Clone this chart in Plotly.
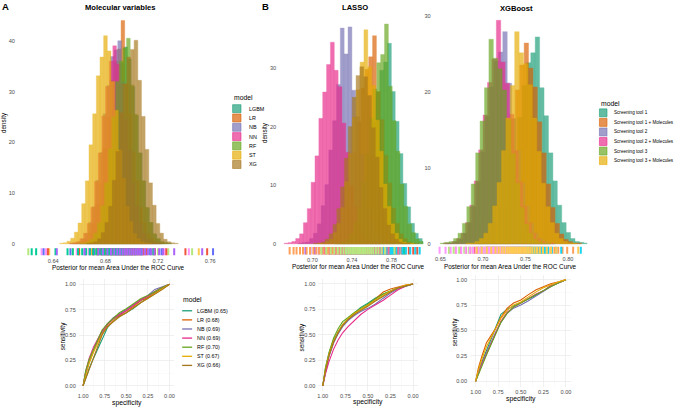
import plotly.graph_objects as go

W, H = 676, 409
DARK2 = ["#1B9E77", "#D95F02", "#7570B3", "#E7298A", "#66A61E", "#E6AB02", "#A6761D"]

# ---------------- data ----------------
MODELS = ["LGBM", "LR", "NB", "NN", "RF", "ST", "XG"]
ROC_AUC_A = [0.65, 0.68, 0.69, 0.69, 0.70, 0.67, 0.66]
TOOLS = ["Screening tool 1", "Screening tool 1 + Molecules", "Screening tool 2",
         "Screening tool 2 + Molecules", "Screening tool 3", "Screening tool 3 + Molecules"]

# Panel A (Molecular variables) histogram: bin width, first bin edge, densities
A_BIN = 0.0028
A_START = [0.6605, 0.6555, 0.6530, 0.6520, 0.6597, 0.6450, 0.6655]
A_LGBM = [0.1,0.2,0.4,1.0,2.1,3.9,7.6,11.9,18.6,24.6,31.6,35.6,38.8,36.4,31.0,25.3,17.9,12.4,7.1,4.2,1.9,1.0,0.4,0.2,0.1]
A_LR   = [0.1,0.2,0.4,0.9,2.2,3.9,7.7,11.9,18.8,24.9,32.2,36.0,38.4,44.0,31.5,25.6,18.1,12.5,7.2,4.2,2.0,1.0,0.4,0.2,0.1]
A_NB   = [0.1,0.2,0.4,1.0,2.0,4.2,7.3,12.5,18.0,25.6,31.2,36.9,38.2,40.0,32.0,24.9,18.6,12.0,7.5,3.9,2.1,0.9,0.4,0.2,0.1]
A_NN   = [0.1,0.2,0.4,1.0,2.1,4.0,7.2,12.3,17.9,25.2,31.0,36.0,39.0,35.4,31.5,24.5,18.4,11.9,7.4,4.1,2.0,0.9,0.4,0.2,0.1]
A_RF   = [0.1,0.2,0.4,0.9,2.1,4.1,7.5,12.0,18.7,25.0,32.0,36.0,38.6,40.5,31.3,25.5,17.9,12.4,7.2,4.2,2.0,1.0,0.4,0.2,0.1]
A_ST   = [0.1,0.2,0.5,1.1,2.3,4.1,7.9,12.4,19.5,25.6,33.1,36.8,41.0,38.0,32.0,26.3,18.5,12.9,7.4,4.4,2.0,1.0,0.4,0.2,0.1]
A_XG   = [0.1,0.2,0.4,1.0,2.2,4.2,7.4,12.5,18.2,25.8,31.5,36.8,38.3,40.1,32.2,25.1,18.6,12.0,7.6,4.0,2.1,0.9,0.4,0.2,0.1]

# Panel B LASSO histogram
L_BIN = 0.0039
L_START = [0.72525, 0.71015, 0.68535, 0.67145, 0.72225, 0.70535, 0.70125]
L_LGBM = [0.1,0.2,0.3,0.8,1.7,3.4,6.1,10.1,15.1,20.7,25.9,29.6,31.0,34.2,26.0,20.9,15.4,10.3,6.3,3.5,1.8,0.9,0.4,0.2,0.1]
L_LR   = [0.1,0.2,0.3,0.8,1.8,3.4,6.3,10.0,15.5,20.8,26.6,29.8,31.9,35.5,26.0,21.2,15.1,10.4,6.1,3.5,1.7,0.9,0.3,0.1,0.1]
L_NB   = [0.1,0.2,0.3,0.9,1.8,3.4,6.5,10.1,16.0,21.0,27.2,36.8,32.4,37.0,26.2,21.7,15.3,10.6,6.1,3.6,1.7,0.8,0.4,0.1,0.1]
L_NN   = [0.1,0.2,0.4,0.9,1.7,3.6,6.0,10.5,15.0,21.4,25.9,30.6,34.4,29.6,26.8,20.6,15.6,9.9,6.3,3.4,1.8,0.8,0.3,0.1,0.1]
L_RF   = [0.1,0.2,0.4,0.8,1.8,3.6,6.2,10.5,15.4,21.5,26.4,30.9,32.3,37.5,26.9,21.0,15.8,10.2,6.4,3.4,1.9,0.8,0.4,0.1,0.1]
L_ST   = [0.1,0.1,0.4,0.8,1.9,3.5,6.2,10.6,15.4,21.6,26.3,31.0,36.5,30.2,27.0,21.1,15.8,10.2,6.4,3.4,1.8,0.8,0.3,0.1,0.1]
L_XG   = [0.1,0.1,0.3,0.8,1.7,3.3,6.0,9.7,14.6,20.0,25.0,28.7,30.2,28.5,25.3,19.8,14.8,9.6,6.0,3.2,1.7,0.8,0.3,0.1,0.1]

# Panel B XGBoost histogram
X_BIN = 0.0052
X_START = [0.69380, 0.68600, 0.65570, 0.65330, 0.64980, 0.68010]
X_ST1  = [0.1,0.1,0.3,0.7,1.4,2.8,5.0,8.1,12.2,16.7,20.9,23.9,25.2,27.3,20.6,16.9,12.0,8.3,5.1,2.8,1.5,0.7,0.3,0.2,0.1]
X_ST1M = [0.1,0.1,0.3,0.6,1.4,2.7,4.8,8.0,11.8,16.5,20.3,23.6,26.5,23.2,20.7,16.1,12.0,7.9,4.8,2.7,1.3,0.6,0.3,0.1,0.1]
X_ST2  = [0.1,0.1,0.3,0.6,1.4,2.8,4.9,8.2,12.1,16.8,20.7,24.1,25.3,28.0,21.2,16.5,12.3,8.0,5.0,2.7,1.4,0.7,0.3,0.1,0.1]
X_ST2M = [0.1,0.1,0.3,0.7,1.4,2.8,5.1,8.3,12.4,17.0,21.3,24.4,29.5,24.0,21.2,17.1,12.3,8.2,5.0,2.8,1.4,0.7,0.3,0.1,0.1]
X_ST3  = [0.1,0.2,0.3,0.7,1.4,2.7,4.9,7.9,12.0,16.2,20.6,27.0,24.5,23.1,20.3,16.4,11.9,8.0,4.8,2.6,1.4,0.6,0.3,0.1,0.1]
X_ST3M = [0.1,0.1,0.3,0.7,1.4,2.7,5.0,8.1,12.3,16.6,20.9,28.0,25.2,23.8,21.0,16.6,12.2,8.0,4.9,2.8,1.4,0.7,0.3,0.1,0.1]

# Rug values (posterior draws shown below each histogram)
RUG_A = [
    [0.6210,0.6600,0.6710,0.6775,0.6805,0.6822,0.6850,0.6868,0.6901,0.6918,0.6935,0.6948,0.6962,0.6976,0.6990,0.7005,
     0.7021,0.7040,0.7058,0.7078,0.7096,0.7120,0.7143,0.7201,0.7280,0.7462],
    [0.6312,0.6345,0.6580,0.6672,0.6705,0.6741,0.6768,0.6795,0.6818,0.6838,0.6856,0.6873,0.6890,0.6905,0.6918,0.6932,
     0.6950,0.6968,0.6986,0.7004,0.7025,0.7047,0.7075,0.7103,0.7170,0.7255,0.7437],
    [0.6370,0.6551,0.6652,0.6690,0.6724,0.6752,0.6779,0.6800,0.6818,0.6838,0.6857,0.6873,0.6889,0.6903,0.6917,0.6934,
     0.6951,0.6970,0.6990,0.7012,0.7036,0.7062,0.7092,0.7160,0.7240,0.7513],
    [0.6327,0.6532,0.6641,0.6680,0.6713,0.6740,0.6765,0.6788,0.6809,0.6828,0.6846,0.6863,0.6880,0.6895,0.6909,0.6926,
     0.6942,0.6960,0.6979,0.7000,0.7022,0.7048,0.7075,0.7141,0.7228,0.7622],
    [0.6360,0.6598,0.6703,0.6740,0.6770,0.6795,0.6818,0.6840,0.6861,0.6880,0.6897,0.6913,0.6929,0.6944,0.6958,0.6974,
     0.6989,0.7006,0.7023,0.7043,0.7063,0.7087,0.7112,0.7178,0.7265,0.7411,0.7577],
    [0.6236,0.6270,0.6418,0.6510,0.6550,0.6590,0.6622,0.6652,0.6680,0.6706,0.6730,0.6751,0.6771,0.6790,0.6808,0.6826,
     0.6844,0.6861,0.6880,0.6899,0.6921,0.6944,0.6970,0.6998,0.7030,0.7070,0.7165],
    [0.6428,0.6640,0.6746,0.6780,0.6815,0.6842,0.6867,0.6890,0.6910,0.6930,0.6948,0.6966,0.6983,0.6999,0.7015,0.7031,
     0.7047,0.7064,0.7082,0.7103,0.7124,0.7150,0.7175,0.7210,0.7240,0.7325,0.7539],
]
RUG_L = [
    [0.7330,0.7380,0.7425,0.7462,0.7498,0.7527,0.7555,0.7579,0.7602,0.7622,0.7642,0.7660,0.7678,0.7695,0.7712,0.7728,
     0.7745,0.7761,0.7778,0.7796,0.7815,0.7835,0.7856,0.7882,0.7908,0.7940,0.7975,0.8020,0.8060],
    [0.7180,0.7230,0.7275,0.7312,0.7350,0.7378,0.7405,0.7430,0.7452,0.7472,0.7492,0.7510,0.7528,0.7545,0.7562,0.7578,
     0.7595,0.7611,0.7628,0.7646,0.7664,0.7684,0.7705,0.7730,0.7755,0.7790,0.7822,0.7925],
    [0.6930,0.6980,0.7025,0.7065,0.7105,0.7140,0.7170,0.7196,0.7221,0.7242,0.7262,0.7280,0.7298,0.7314,0.7330,0.7345,
     0.7360,0.7376,0.7392,0.7410,0.7428,0.7449,0.7470,0.7496,0.7522,0.7555,0.7590,0.7690],
    [0.6770,0.6810,0.6840,0.6875,0.6905,0.6942,0.6976,0.7010,0.7040,0.7068,0.7090,0.7112,0.7132,0.7150,0.7168,0.7185,
     0.7202,0.7218,0.7235,0.7252,0.7271,0.7290,0.7312,0.7333,0.7360,0.7388,0.7420,0.7460,0.7560],
    [0.7300,0.7350,0.7395,0.7432,0.7468,0.7497,0.7525,0.7549,0.7572,0.7592,0.7612,0.7630,0.7648,0.7665,0.7682,0.7698,
     0.7715,0.7731,0.7748,0.7766,0.7785,0.7805,0.7826,0.7852,0.7878,0.7910,0.7945,0.7990,0.8040,0.8085],
    [0.7130,0.7180,0.7228,0.7265,0.7300,0.7330,0.7358,0.7382,0.7405,0.7425,0.7445,0.7464,0.7482,0.7498,0.7515,0.7531,
     0.7548,0.7564,0.7580,0.7597,0.7615,0.7635,0.7655,0.7680,0.7705,0.7738,0.7770,0.7870],
    [0.7090,0.7140,0.7185,0.7222,0.7258,0.7287,0.7315,0.7339,0.7362,0.7382,0.7402,0.7420,0.7438,0.7455,0.7472,0.7488,
     0.7505,0.7521,0.7538,0.7556,0.7575,0.7595,0.7616,0.7642,0.7668,0.7700,0.7735,0.7830],
]
RUG_X = [
    [0.7060,0.7120,0.7180,0.7232,0.7282,0.7320,0.7355,0.7385,0.7415,0.7440,0.7465,0.7488,0.7510,0.7530,0.7550,0.7570,
     0.7590,0.7610,0.7630,0.7651,0.7672,0.7695,0.7718,0.7745,0.7772,0.7805,0.7840,0.7885,0.7935,0.7990,0.8060],
    [0.6985,0.7045,0.7105,0.7155,0.7205,0.7242,0.7278,0.7308,0.7338,0.7363,0.7388,0.7410,0.7432,0.7452,0.7472,0.7492,
     0.7512,0.7532,0.7552,0.7573,0.7594,0.7617,0.7640,0.7667,0.7695,0.7728,0.7765,0.7810,0.7860,0.7920,0.8150],
    [0.6680,0.6740,0.6800,0.6852,0.6902,0.6940,0.6975,0.7005,0.7035,0.7060,0.7085,0.7108,0.7130,0.7150,0.7170,0.7190,
     0.7210,0.7230,0.7250,0.7271,0.7292,0.7315,0.7338,0.7365,0.7392,0.7425,0.7460,0.7505,0.7555],
    [0.6600,0.6655,0.6720,0.6780,0.6832,0.6880,0.6918,0.6952,0.6982,0.7012,0.7037,0.7062,0.7084,0.7106,0.7126,0.7146,
     0.7166,0.7185,0.7205,0.7225,0.7246,0.7268,0.7291,0.7315,0.7342,0.7370,0.7404,0.7440,0.7485,0.7535],
    [0.6490,0.6560,0.6620,0.6685,0.6745,0.6797,0.6845,0.6882,0.6918,0.6948,0.6978,0.7003,0.7028,0.7050,0.7072,0.7092,
     0.7112,0.7131,0.7150,0.7170,0.7190,0.7211,0.7232,0.7256,0.7280,0.7307,0.7335,0.7370,0.7405,0.7450,0.7500],
    [0.6925,0.6985,0.7045,0.7097,0.7147,0.7185,0.7220,0.7250,0.7280,0.7305,0.7330,0.7353,0.7375,0.7395,0.7415,0.7434,
     0.7453,0.7473,0.7492,0.7513,0.7534,0.7557,0.7580,0.7607,0.7635,0.7668,0.7705,0.7750,0.7800,0.7860,0.8120],
]

# ROC curves: specificity grid and sensitivities
SPEC = [1.0, 0.97, 0.93, 0.88, 0.83, 0.78, 0.72, 0.65, 0.58, 0.50, 0.42, 0.33, 0.25, 0.17, 0.08, 0.0]
ROC_A = [
    [0,0.08,0.17,0.27,0.36,0.45,0.57,0.64,0.69,0.72,0.76,0.82,0.87,0.92,0.96,1.0],
    [0,0.13,0.24,0.34,0.44,0.52,0.60,0.66,0.70,0.74,0.78,0.84,0.87,0.91,0.96,1.0],
    [0,0.12,0.23,0.35,0.45,0.53,0.61,0.67,0.71,0.75,0.80,0.85,0.89,0.95,0.98,1.0],
    [0,0.14,0.27,0.38,0.46,0.54,0.60,0.66,0.70,0.74,0.79,0.85,0.88,0.93,0.97,1.0],
    [0,0.15,0.26,0.36,0.46,0.55,0.61,0.67,0.72,0.76,0.81,0.86,0.89,0.93,0.97,1.0],
    [0,0.10,0.22,0.33,0.42,0.51,0.58,0.64,0.68,0.72,0.77,0.82,0.86,0.91,0.96,1.0],
    [0,0.07,0.16,0.28,0.39,0.50,0.58,0.63,0.68,0.72,0.77,0.82,0.86,0.90,0.95,1.0],
]
ROC_L = [
    [0,0.17,0.32,0.45,0.53,0.60,0.66,0.72,0.77,0.81,0.86,0.90,0.93,0.96,0.98,1.0],
    [0,0.15,0.30,0.43,0.52,0.59,0.65,0.71,0.75,0.79,0.85,0.92,0.95,0.97,0.99,1.0],
    [0,0.14,0.29,0.42,0.51,0.58,0.64,0.69,0.73,0.76,0.80,0.86,0.91,0.95,0.98,1.0],
    [0,0.12,0.24,0.36,0.45,0.52,0.58,0.64,0.70,0.75,0.79,0.84,0.89,0.94,0.98,1.0],
    [0,0.18,0.33,0.47,0.56,0.63,0.67,0.72,0.76,0.80,0.85,0.90,0.93,0.96,0.98,1.0],
    [0,0.16,0.31,0.44,0.53,0.60,0.66,0.71,0.75,0.79,0.84,0.89,0.93,0.96,0.99,1.0],
    [0,0.15,0.30,0.43,0.52,0.59,0.65,0.70,0.74,0.78,0.83,0.88,0.92,0.96,0.98,1.0],
]
ROC_X = [
    [0,0.10,0.19,0.30,0.42,0.53,0.66,0.71,0.74,0.77,0.81,0.85,0.89,0.94,0.97,1.0],
    [0,0.13,0.25,0.38,0.45,0.52,0.63,0.72,0.77,0.80,0.85,0.90,0.93,0.96,0.98,1.0],
    [0,0.09,0.18,0.28,0.38,0.48,0.58,0.67,0.72,0.75,0.79,0.84,0.88,0.93,0.97,1.0],
    [0,0.08,0.17,0.27,0.37,0.48,0.59,0.68,0.73,0.77,0.81,0.86,0.89,0.94,0.97,1.0],
    [0,0.07,0.16,0.26,0.36,0.46,0.58,0.67,0.73,0.77,0.81,0.85,0.89,0.93,0.97,1.0],
    [0,0.11,0.22,0.34,0.43,0.51,0.62,0.70,0.75,0.78,0.83,0.88,0.92,0.95,0.98,1.0],
]

# ---------------- helpers ----------------
FONT = "Liberation Sans, Arial, sans-serif"
TICK_GRAY = "#4d4d4d"


def fx(x):
    return x / W


def fy(y):
    return 1 - y / H


def rgba(hexc, a):
    h = hexc.lstrip("#")
    return "rgba(%d,%d,%d,%.3f)" % (int(h[0:2], 16), int(h[2:4], 16), int(h[4:6], 16), a)


fig = go.Figure()
layout = {}


def axis_pair(n, xdom, ydom, xr, yr, xkw=None, ykw=None):
    sfx = "" if n == 1 else str(n)
    base = dict(showgrid=False, zeroline=False, showline=False, ticks="",
                showticklabels=False, fixedrange=True,
                tickfont=dict(family=FONT, size=5.6, color=TICK_GRAY))
    xa = dict(base, domain=[fx(xdom[0]), fx(xdom[1])], range=xr, anchor="y" + sfx)
    ya = dict(base, domain=[fy(ydom[1]), fy(ydom[0])], range=yr, anchor="x" + sfx)
    if xkw:
        xa.update(xkw)
    if ykw:
        ya.update(ykw)
    layout["xaxis" + sfx] = xa
    layout["yaxis" + sfx] = ya
    return "x" + sfx, "y" + sfx


def add_hist(ax, ay, starts, series, binw, colors):
    for s0, vals, col in zip(starts, series, colors):
        xs = [s0 + (i + 0.5) * binw for i in range(len(vals))]
        fig.add_trace(go.Bar(x=xs, y=vals, width=binw, xaxis=ax, yaxis=ay,
                             marker=dict(color=col, opacity=0.68,
                                         line=dict(color=col, width=0.4)),
                             showlegend=False, hoverinfo="skip"))


def add_rug(ax, ay, rugs, colors):
    for vals, col in zip(rugs, colors):
        fig.add_trace(go.Scatter(x=vals, y=[0.5] * len(vals), xaxis=ax, yaxis=ay, mode="markers",
                                 marker=dict(symbol="line-ns-open", size=8,
                                             line=dict(color=col, width=2.0)),
                                 showlegend=False, hoverinfo="skip"))


def add_roc(ax, ay, curves, colors):
    for sens, col in zip(curves, colors):
        fig.add_trace(go.Scatter(x=SPEC, y=sens, xaxis=ax, yaxis=ay, mode="lines",
                                 line=dict(color=col, width=1.1),
                                 showlegend=False, hoverinfo="skip"))


def hist_y(vals, so):
    return dict(showticklabels=True, tickmode="array", tickvals=vals, ticklabelstandoff=so)


def rug_x(vals, fmt):
    return dict(showticklabels=True, tickmode="array", tickvals=vals,
                tickformat=fmt, ticklabelstandoff=1)


# Panel A histogram + rug
xa, ya = axis_pair(1, (17, 222), (16, 246), [0.6131, 0.7693], [-0.2, 44.9],
                   ykw=hist_y([0, 10, 20, 30, 40], 2))
add_hist(xa, ya, A_START, [A_LGBM, A_LR, A_NB, A_NN, A_RF, A_ST, A_XG], A_BIN, DARK2)
xa, ya = axis_pair(2, (17, 222), (249.5, 256.5), [0.6131, 0.7693], [0, 1],
                   xkw=rug_x([0.64, 0.68, 0.72, 0.76], ".2f"))
add_rug(xa, ya, RUG_A, DARK2)

# LASSO histogram + rug
xa, ya = axis_pair(3, (281, 423.5), (16, 246), [0.66845, 0.8121], [-0.17, 38.88],
                   ykw=hist_y([0, 10, 20, 30], 4))
add_hist(xa, ya, L_START, [L_LGBM, L_LR, L_NB, L_NN, L_RF, L_ST, L_XG], L_BIN, DARK2)
xa, ya = axis_pair(4, (281, 423.5), (248.3, 255.7), [0.66845, 0.8121], [0, 1],
                   xkw=rug_x([0.70, 0.74, 0.78], ".2f"))
add_rug(xa, ya, RUG_L, DARK2)

# XGBoost histogram + rug
xa, ya = axis_pair(5, (434, 588), (12, 246), [0.6421, 0.8226], [-0.13, 30.6],
                   ykw=hist_y([0, 10, 20, 30], 2))
add_hist(xa, ya, X_START, [X_ST1, X_ST1M, X_ST2, X_ST2M, X_ST3, X_ST3M], X_BIN, DARK2[:6])
xa, ya = axis_pair(6, (434, 588), (248, 255), [0.6421, 0.8226], [0, 1],
                   xkw=rug_x([0.65, 0.70, 0.75, 0.80], ".2f"))
add_rug(xa, ya, RUG_X, DARK2[:6])


# ROC panels
def roc_kw(so):
    return dict(showticklabels=True, showgrid=True, gridcolor="#e6e6e6", gridwidth=0.6,
                tickmode="array", tickvals=[0, 0.25, 0.5, 0.75, 1.0], tickformat=".2f",
                ticklabelstandoff=so,
                minor=dict(tickvals=[0.125, 0.375, 0.625, 0.875], showgrid=True,
                           gridcolor="#f2f2f2", gridwidth=0.4))


xa, ya = axis_pair(7, (78, 173.3), (280.6, 392.8), [1.05, -0.05], [-0.05, 1.05],
                   xkw=roc_kw(1), ykw=roc_kw(2))
add_roc(xa, ya, ROC_A, DARK2)
xa, ya = axis_pair(8, (318.2, 417.8), (280.2, 392.8), [1.05, -0.05], [-0.05, 1.05],
                   xkw=roc_kw(1), ykw=roc_kw(2))
add_roc(xa, ya, ROC_L, DARK2)
xa, ya = axis_pair(9, (471.5, 571.2), (275.9, 388.4), [1.05, -0.05], [-0.05, 1.05],
                   xkw=roc_kw(1), ykw=roc_kw(3))
add_roc(xa, ya, ROC_X, DARK2[:6])

# ---------------- annotations ----------------
ann = []
shapes = []


def text(x, y, s, size=6, bold=False, color="black", xanchor="center", angle=0):
    ann.append(dict(x=fx(x), y=fy(y), xref="paper", yref="paper", text=("<b>%s</b>" % s) if bold else s,
                    showarrow=False, xanchor=xanchor, yanchor="middle", textangle=angle,
                    font=dict(family=FONT, size=size, color=color)))


text(5, 7, "A", 9.5, bold=True)
text(265.5, 6.5, "B", 9.5, bold=True)
text(119.5, 8, "Molecular variables", 7.6, bold=True)
text(355, 8, "LASSO", 7.6, bold=True)
text(516.7, 8.3, "XGBoost", 7.6, bold=True)

AXT = "Posterior for mean Area Under the ROC Curve"
text(118.3, 268.5, AXT, 6.4)
text(359, 267.7, AXT, 6.4)
text(511, 267.7, AXT, 6.4)
text(3.5, 123, "density", 6.3, angle=-90)
text(265.5, 133, "density", 6.3, angle=-90)

text(126.7, 405, "specificity", 6.8)
text(368.3, 404.3, "specificity", 6.8)
text(521.3, 400.7, "specificity", 6.8)
text(61.7, 337.5, "sensitivity", 6.4, angle=-90)
text(301.7, 338.3, "sensitivity", 6.4, angle=-90)
text(455, 333.3, "sensitivity", 6.4, angle=-90)

# Histogram legend (models)
text(232, 98.3, "model", 6.8, xanchor="left")
for i, (m, col) in enumerate(zip(MODELS, DARK2)):
    yc = 109.2 + i * 9.35
    shapes.append(dict(type="rect", xref="paper", yref="paper",
                       x0=fx(232.3), x1=fx(240.7), y0=fy(yc + 4), y1=fy(yc - 4),
                       fillcolor=rgba(col, 0.68), line=dict(color=col, width=0.6)))
    text(246.5, yc, m, 5.4, xanchor="left")

# XGBoost legend (screening tools)
text(600, 104, "model", 6.8, xanchor="left")
for i, (m, col) in enumerate(zip(TOOLS, DARK2)):
    yc = 113.4 + i * 9.6
    shapes.append(dict(type="rect", xref="paper", yref="paper",
                       x0=fx(600.2), x1=fx(607.8), y0=fy(yc + 4), y1=fy(yc - 4),
                       fillcolor=rgba(col, 0.68), line=dict(color=col, width=0.6)))
    text(612.5, yc, m, 4.6, xanchor="left")

# ROC legend (models with AUC)
text(181, 301, "model", 6.8, xanchor="left")
for i, (m, auc, col) in enumerate(zip(MODELS, ROC_AUC_A, DARK2)):
    yc = 312.3 + i * 9.15
    shapes.append(dict(type="line", xref="paper", yref="paper",
                       x0=fx(181.7), x1=fx(191.7), y0=fy(yc), y1=fy(yc),
                       line=dict(color=col, width=1.3)))
    text(194.3, yc, "%s (%.2f)" % (m, auc), 5.4, xanchor="left")

layout.update(dict(width=W, height=H, autosize=False, margin=dict(l=0, r=0, t=0, b=0),
                   paper_bgcolor="white", plot_bgcolor="rgba(0,0,0,0)", barmode="overlay",
                   bargap=0, showlegend=False, annotations=ann, shapes=shapes,
                   font=dict(family=FONT)))
fig.update_layout(**layout)
fig.write_html("out.html", config={"displayModeBar": False, "staticPlot": True},
               post_script="document.body.style.margin='0';document.body.style.overflow='hidden';")
